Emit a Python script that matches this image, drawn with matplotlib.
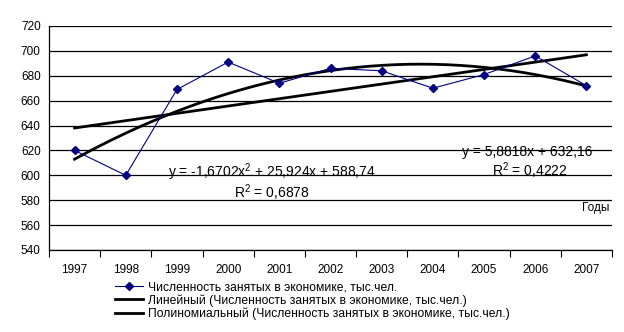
import matplotlib.pyplot as plt
import numpy as np

plt.rcParams['font.family'] = ['Liberation Sans', 'DejaVu Sans']
plt.rcParams['mathtext.fontset'] = 'custom'
plt.rcParams['mathtext.rm'] = 'Liberation Sans'
plt.rcParams['mathtext.it'] = 'Liberation Sans'

years = ['1997', '1998', '1999', '2000', '2001', '2002', '2003', '2004', '2005', '2006', '2007']
employed = [620, 600, 669, 691, 674, 686, 684, 670, 681, 696, 672]

# trend coefficients, x = 1..11
lin_k, lin_b = 5.8818, 632.16
poly_a, poly_b, poly_c = -1.6702, 25.924, 588.74
r2_lin = 0.4222
r2_poly = 0.6878

series_name = 'Численность занятых в экономике, тыс.чел.'

fig = plt.figure(figsize=(6.24, 3.32), dpi=100)
ax = fig.add_axes([49/624, 1 - 250/332, (612 - 49)/624, (250 - 26)/332])

pos = np.arange(len(years))
ax.plot(pos, employed, color='#000080', lw=0.8, marker='D', ms=4,
        label=series_name, zorder=4)

xs = np.linspace(1, len(years), 200)
ax.plot(xs - 1, lin_k * xs + lin_b, color='black', lw=2,
        label='Линейный (' + series_name + ')', zorder=3)
ax.plot(xs - 1, poly_a * xs**2 + poly_b * xs + poly_c, color='black', lw=2,
        label='Полиномиальный (' + series_name + ')', zorder=3)

ax.set_ylim(540, 720)
ax.set_yticks(np.arange(540, 721, 20))
ax.set_xlim(-0.5, len(years) - 0.5)
ax.set_xticks(pos)
ax.set_xticklabels(years)
ax.set_xticks(np.arange(-0.5, len(years)), minor=True)
ax.tick_params(axis='x', which='major', length=0, pad=10, labelsize=8.5)
ax.tick_params(axis='x', which='minor', length=5, width=0.8)
ax.tick_params(axis='y', length=0, pad=6, labelsize=8.5)
ax.grid(axis='y', color='black', lw=0.9)
ax.set_axisbelow(True)
for s in ['top', 'right']:
    ax.spines[s].set_visible(False)
ax.spines['left'].set_linewidth(0.9)
ax.spines['bottom'].set_linewidth(0.9)

fmt = lambda v: f'{v}'.replace('.', ',')
ax.text(8.84, 618.5, f'y = {fmt(lin_k)}x + {fmt(lin_b)}', ha='center', va='center', fontsize=10)
ax.text(8.9, 603.5, 'R$^2$ = ' + fmt(r2_lin), ha='center', va='center', fontsize=10)
ax.text(3.86, 602.5, f'y = {fmt(poly_a)}x$^2$ + {fmt(poly_b)}x + {fmt(poly_c)}',
        ha='center', va='center', fontsize=10)
ax.text(3.86, 586, 'R$^2$ = ' + fmt(r2_poly), ha='center', va='center', fontsize=10)
ax.text(10.45, 573.5, 'Годы', ha='right', va='center', fontsize=8.5)

fig.legend(loc='upper left', bbox_to_anchor=(115/624, 1 - 281/332), frameon=False,
           fontsize=8.7, handlelength=2.3, handletextpad=0.45, labelspacing=0.1,
           borderpad=0, borderaxespad=0)

fig.savefig('out.png', dpi=100)
